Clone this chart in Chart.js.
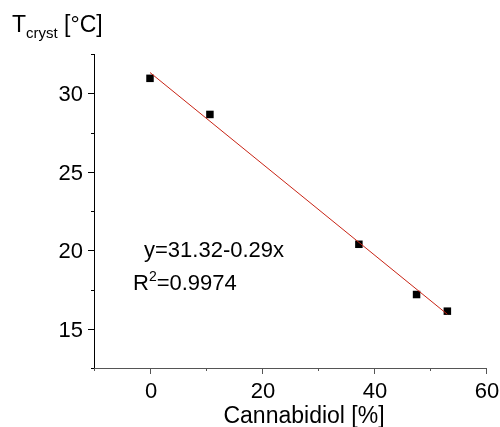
<!DOCTYPE html>
<html>
<head>
<meta charset="utf-8">
<script src="https://cdn.jsdelivr.net/npm/chart.js@4"></script>
<style>
  html, body { margin: 0; padding: 0; background: #fff; }
  #wrap { width: 500px; height: 427px; }
</style>
</head>
<body>
<div id="wrap"><canvas id="myChart" width="500" height="427"></canvas></div>
<script>
// measured points
var cbd = [0, 10.7, 37.3, 47.6, 53.1];
var tcryst = [30.95, 28.65, 20.38, 17.18, 16.12];

// linear fit drawn from first to last x
var fitX = [0, 53.1];
var fitY = [31.32, 15.92];

var xTicks = [0, 20, 40, 60];
var yTicks = [15, 20, 25, 30];

var FONT = 'Liberation Sans, Arial, sans-serif';

function pts(xs, ys) {
  var out = [];
  for (var i = 0; i < xs.length; i++) out.push({x: xs[i], y: ys[i]});
  return out;
}

// outward ticks (long on labelled values), tick labels and the free texts
var tickPlugin = {
  id: 'ticks',
  afterDraw: function(chart) {
    var ctx = chart.ctx;
    var xs = chart.scales.x, ys = chart.scales.y;
    var area = chart.chartArea;
    ctx.save();
    ctx.lineWidth = 1;
    ctx.strokeStyle = '#555';
    xs.ticks.forEach(function(t) {
      var px = Math.round(xs.getPixelForValue(t.value)) + 0.5;
      var len = xTicks.indexOf(t.value) >= 0 ? 6 : 3;
      ctx.beginPath();
      ctx.moveTo(px, area.bottom);
      ctx.lineTo(px, area.bottom + len);
      ctx.stroke();
    });
    ctx.strokeStyle = '#000';
    ys.ticks.forEach(function(t) {
      var py = Math.round(ys.getPixelForValue(t.value)) + 0.5;
      var len = yTicks.indexOf(t.value) >= 0 ? 6 : 3;
      ctx.beginPath();
      ctx.moveTo(area.left, py);
      ctx.lineTo(area.left - len, py);
      ctx.stroke();
    });

    ctx.fillStyle = '#000';
    ctx.textBaseline = 'alphabetic';
    ctx.font = '22px ' + FONT;
    ctx.textAlign = 'center';
    xTicks.forEach(function(v) {
      ctx.fillText(String(v), xs.getPixelForValue(v) + 1, area.bottom + 30);
    });
    ctx.textAlign = 'right';
    yTicks.forEach(function(v) {
      ctx.fillText(String(v), area.left - 11, ys.getPixelForValue(v) + 8);
    });

    // y title
    ctx.textAlign = 'left';
    ctx.font = '23px ' + FONT;
    ctx.fillText('T', 12, 32);
    var w = ctx.measureText('T').width;
    ctx.font = '15px ' + FONT;
    ctx.fillText('cryst', 12 + w, 38);
    var w2 = ctx.measureText('cryst').width;
    ctx.font = '23px ' + FONT;
    ctx.fillText(' [\u00b0C]', 12 + w + w2, 32);

    // x title
    ctx.textAlign = 'center';
    ctx.font = '23px ' + FONT;
    ctx.fillText('Cannabidiol [%]', 304, 423);

    // fit annotation
    ctx.textAlign = 'left';
    ctx.font = '22px ' + FONT;
    ctx.fillText('y=31.32-0.29x', 144, 257);
    ctx.fillText('R', 133, 290);
    var rw = ctx.measureText('R').width;
    ctx.font = '14px ' + FONT;
    ctx.fillText('2', 133 + rw, 281);
    var sw = ctx.measureText('2').width;
    ctx.font = '22px ' + FONT;
    ctx.fillText('=0.9974', 133 + rw + sw, 290);
    ctx.restore();
  }
};

var ctx = document.getElementById('myChart');
var chart = new Chart(ctx, {
  data: {
    datasets: [{
      type: 'line',
      data: pts(fitX, fitY),
      borderColor: 'rgb(200,35,20)',
      borderWidth: 1,
      pointRadius: 0,
      fill: false,
      order: 0
    }, {
      type: 'scatter',
      data: pts(cbd, tcryst),
      pointStyle: 'rect',
      pointRadius: 5.3,
      borderWidth: 0,
      backgroundColor: '#000',
      order: 1
    }]
  },
  options: {
    responsive: false,
    animation: false,
    layout: { padding: { top: 54, right: 14, left: 0, bottom: 0 } },
    plugins: { legend: { display: false }, tooltip: { enabled: false } },
    scales: {
      x: {
        type: 'linear',
        min: -10, max: 60,
        afterFit: function(s) { s.height = 59; },
        grid: { display: false, drawTicks: false },
        border: { display: true, color: '#555', width: 1 },
        ticks: { display: false, stepSize: 10, autoSkip: false }
      },
      y: {
        type: 'linear',
        min: 12.5, max: 32.5,
        afterFit: function(s) { s.width = 94; },
        grid: { display: false, drawTicks: false },
        border: { display: true, color: '#000', width: 1 },
        ticks: { display: false, stepSize: 2.5, autoSkip: false }
      }
    }
  },
  plugins: [tickPlugin]
});
</script>
</body>
</html>
